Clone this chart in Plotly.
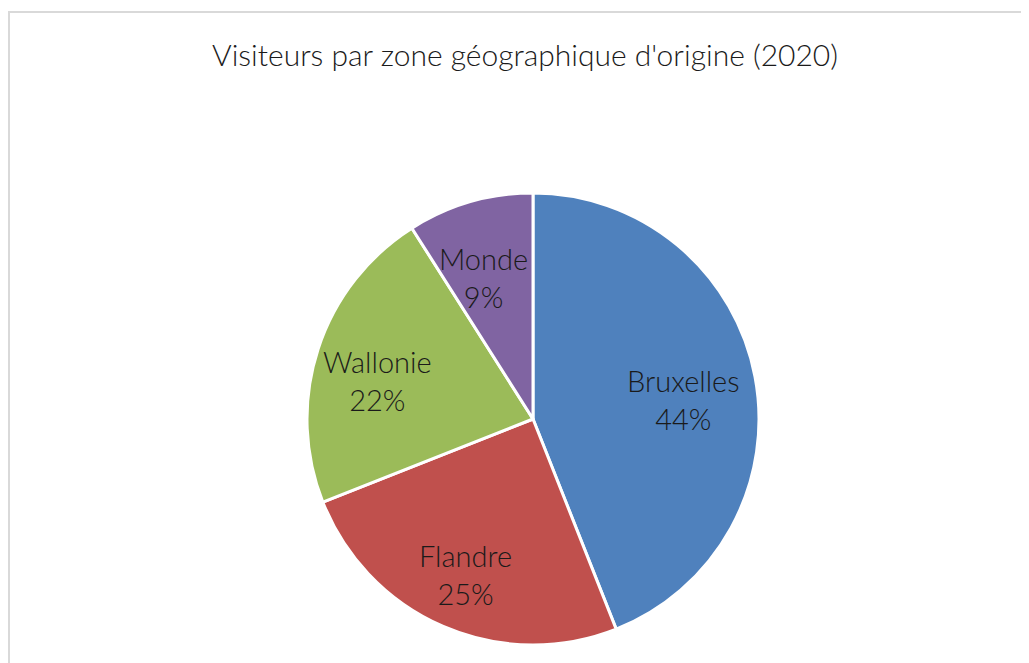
import math
import plotly.graph_objects as go

labels = ["Bruxelles", "Flandre", "Wallonie", "Monde"]
values = [44, 25, 22, 9]
colors = ["#4F81BD", "#C0504D", "#9BBB59", "#8064A2"]

W, H = 1029, 663
OFF = 8  # page body margin
cx, cy, r = 533 - OFF, 419 - OFF, 226
label_frac = 0.70

fig = go.Figure(go.Pie(
    labels=labels,
    values=values,
    sort=False,
    direction="clockwise",
    rotation=0,
    marker=dict(colors=colors, line=dict(color="white", width=3)),
    textinfo="none",
    showlegend=False,
    hoverinfo="label+percent",
    domain=dict(x=[(cx - r) / W, (cx + r) / W], y=[1 - (cy + r) / H, 1 - (cy - r) / H]),
))

total = sum(values)
annotations = []
cum = 0
for lab, v in zip(labels, values):
    mid = (cum + v / 2) / total * 2 * math.pi
    cum += v
    px = cx + label_frac * r * math.sin(mid)
    py = cy - label_frac * r * math.cos(mid)
    annotations.append(dict(
        x=px / W, y=1 - py / H, xref="paper", yref="paper",
        xshift=-5, yshift=-10,
        text=f"{lab}<br>{round(v / total * 100)}%",
        showarrow=False, xanchor="center", yanchor="middle", align="center",
        font=dict(family="Lato", size=29, color="#1a1a1a", weight=300),
    ))

fig.update_layout(
    width=W, height=H,
    margin=dict(l=0, r=0, t=0, b=0),
    paper_bgcolor="white",
    title=dict(text="Visiteurs par zone géographique d'origine (2020)",
               x=(525 - OFF) / W, xanchor="center", y=1 - (55 - OFF) / H, yanchor="middle",
               font=dict(family="Lato", size=30, color="#1a1a1a", weight=300)),
    annotations=annotations,
    shapes=[dict(type="rect", xref="paper", yref="paper",
                 x0=(9 - OFF) / W, x1=1.05, y0=-0.05, y1=1 - (12 - OFF) / H,
                 line=dict(color="#D9D9D9", width=2))],
)

fig.write_html("out.html")
